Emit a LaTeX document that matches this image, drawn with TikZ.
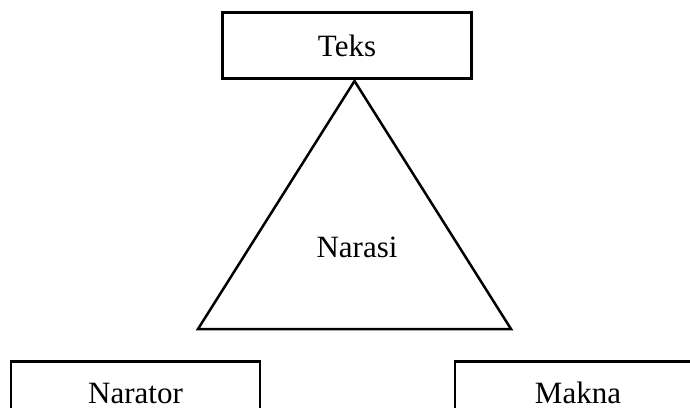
\documentclass[tikz,border=0pt]{standalone}
\usepackage{fontspec}
\setmainfont{Liberation Serif}
\begin{document}
\begin{tikzpicture}[x=1pt,y=-1pt,
  box/.style={draw, line width=2.5pt, inner sep=0pt, font=\fontsize{31}{36}\selectfont},
  lbl/.style={inner sep=0pt, font=\fontsize{31}{36}\selectfont},
  tri/.style={draw, line width=2.5pt, line join=miter}]
\useasboundingbox (0,0) rectangle (690,407);
\clip (0,0) rectangle (690,407);
\node[box, minimum width=249pt, minimum height=65.6pt] (teks) at (347,45.5) {Teks};
\coordinate (apex) at (354.5,81);
\coordinate (bl) at (198,329);
\coordinate (br) at (511,329);
\draw[tri] (apex) -- (bl) -- (br) -- cycle;
\node[lbl] (narasi) at (357,247) {Narasi};
\node[box, minimum width=249pt, minimum height=63pt] (narator) at (135.5,393) {Narator};
\node[box, minimum width=246pt, minimum height=63pt] (makna) at (578,393) {Makna};
\end{tikzpicture}
\end{document}
